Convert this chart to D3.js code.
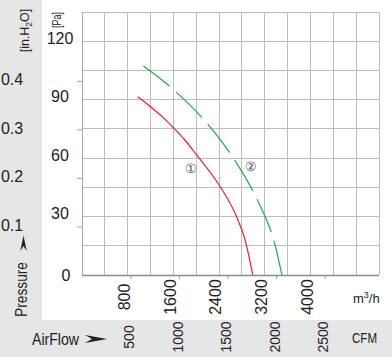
<!DOCTYPE html>
<html>
<head>
<meta charset="utf-8">
<script src="https://cdn.jsdelivr.net/npm/d3@7"></script>
<style>
  body { margin: 0; background: #fff; }
  svg { display: block; }
  text { font-family: "Liberation Sans", Arial, sans-serif; }
</style>
</head>
<body>
<div id="chart"></div>
<script>
// fan curve: static pressure vs air flow

// tick labels
const flowTicks = [800, 1600, 2400, 3200, 4000];     // m3/h
const cfmTicks = [500, 1000, 1500, 2000, 2500];      // CFM
const paTicks = [0, 30, 60, 90, 120];                // Pa
const inTicks = [0.1, 0.2, 0.3, 0.4];                // in.H2O

// curve 1 (red, solid)
const flow1 = [975, 1200, 1400, 1600, 1800, 2010, 2400, 2700, 2855, 2990];
const pa1 = [91.5, 86.4, 81.4, 75.6, 69.3, 61.5, 46.2, 30.3, 18, 0];

// curve 2 (green, dashed)
const flow2 = [1075, 1530, 1660, 2125, 2420, 2710, 3030, 3205, 3340, 3500];
const pa2 = [107.3, 97, 93.6, 80, 69.5, 57.3, 41, 30, 19.7, 0];

document.addEventListener('DOMContentLoaded', function(){

	const w = 392, h = 361;
	const left = 82, right = 379, top = 12, bottom = 275;
	const flowMax = 5200, paMax = 135;

	const svg = d3.select("#chart")
				  .append("svg")
				  .attr("width", w)
				  .attr("height", h);

	// grey bands
	svg.append("rect").attr("x", 0).attr("y", 0).attr("width", 42).attr("height", 320).attr("fill", "#e6e6e6");
	svg.append("rect").attr("x", 0).attr("y", 320).attr("width", w).attr("height", 37).attr("fill", "#e6e6e6");

	// scales
	const xScale = d3.scaleLinear().domain([0, flowMax]).range([left, right]);
	const xCfm = d3.scaleLinear().domain([0, flowMax / 1.699]).range([left, right]);
	const yScale = d3.scaleLinear().domain([0, paMax]).range([bottom, top]);
	const yIn = d3.scaleLinear().domain([0, paMax / 249.09]).range([bottom, top]);

	// grid
	const grid = svg.append("g").attr("stroke", "#bdbdbd").attr("stroke-width", 1).attr("shape-rendering", "crispEdges");
	grid.selectAll("line.v")
		.data(d3.range(400, flowMax + 1, 400))
		.enter().append("line")
		.attr("x1", d => xScale(d)).attr("x2", d => xScale(d))
		.attr("y1", top).attr("y2", bottom);
	grid.selectAll("line.h")
		.data(d3.range(15, paMax + 1, 15))
		.enter().append("line")
		.attr("x1", left).attr("x2", right)
		.attr("y1", d => yScale(d)).attr("y2", d => yScale(d));

	// axis lines
	svg.append("line").attr("x1", left).attr("x2", left).attr("y1", top).attr("y2", bottom)
	   .attr("stroke", "#a8a8a8").attr("shape-rendering", "crispEdges");
	svg.append("line").attr("x1", left).attr("x2", right).attr("y1", bottom + 0.5).attr("y2", bottom + 0.5)
	   .attr("stroke", "#8c8c8c").attr("stroke-width", 1.5);

	// CFM ticks under the flow axis
	const cfmTickAxis = svg.append("g")
		.attr("transform", "translate(0," + (bottom + 1) + ")")
		.call(d3.axisBottom(xCfm).tickValues(cfmTicks).tickSize(3).tickFormat(""));
	cfmTickAxis.select(".domain").remove();
	cfmTickAxis.selectAll("line").attr("stroke", "#a0a0a0");

	// in.H2O ticks + labels
	const inAxis = svg.append("g")
		.attr("transform", "translate(" + left + ",0)")
		.call(d3.axisLeft(yIn).tickValues(inTicks).tickSize(5).tickFormat(d3.format(".1f")));
	inAxis.select(".domain").remove();
	inAxis.selectAll("line").attr("stroke", "#a0a0a0");
	inAxis.selectAll("text")
		.attr("x", -70).attr("y", -1.5)
		.attr("text-anchor", "middle")
		.attr("font-family", "Liberation Sans, Arial, sans-serif")
		.attr("font-size", 16)
		.attr("fill", "#222");

	// Pa labels
	const paAxis = svg.append("g")
		.attr("transform", "translate(60,0)")
		.call(d3.axisLeft(yScale).tickValues(paTicks).tickSize(0));
	paAxis.select(".domain").remove();
	paAxis.selectAll("text")
		.attr("x", 0).attr("y", -3)
		.attr("text-anchor", "middle")
		.attr("font-family", "Liberation Sans, Arial, sans-serif")
		.attr("font-size", 16)
		.attr("fill", "#222");
	paAxis.selectAll(".tick").filter(d => d === 0).select("text").attr("x", 6).attr("y", 0);

	// m3/h labels (rotated)
	const flowAxis = svg.append("g")
		.attr("transform", "translate(0,297)")
		.call(d3.axisBottom(xScale).tickValues(flowTicks).tickSize(0).tickFormat(d3.format("d")));
	flowAxis.select(".domain").remove();
	flowAxis.selectAll("text")
		.attr("x", 0).attr("y", 0).attr("dy", "0.36em")
		.attr("transform", "translate(-4,0) rotate(-90)")
		.attr("text-anchor", "middle")
		.attr("font-family", "Liberation Sans, Arial, sans-serif")
		.attr("font-size", 16)
		.attr("fill", "#222");

	// CFM labels (rotated)
	const cfmAxis = svg.append("g")
		.attr("transform", "translate(0,337)")
		.call(d3.axisBottom(xCfm).tickValues(cfmTicks).tickSize(0).tickFormat(d3.format("d")));
	cfmAxis.select(".domain").remove();
	cfmAxis.selectAll("text")
		.attr("x", 0).attr("y", 0).attr("dy", "0.36em")
		.attr("transform", "translate(-2,0) rotate(-90)")
		.attr("text-anchor", "middle")
		.attr("font-family", "Liberation Sans, Arial, sans-serif")
		.attr("font-size", 14)
		.attr("fill", "#222");

	// unit labels
	svg.append("text")
	   .attr("x", 353).attr("y", 303).attr("font-size", 13).attr("fill", "#222")
	   .html('m<tspan dy="-5" font-size="9">3</tspan><tspan dy="5">/h</tspan>');
	svg.append("text")
	   .attr("x", 352).attr("y", 343).attr("font-size", 15).attr("fill", "#222")
	   .attr("textLength", 25).attr("lengthAdjust", "spacingAndGlyphs")
	   .text("CFM");
	svg.append("text")
	   .attr("transform", "translate(56,20) rotate(-90)")
	   .attr("dy", "0.36em").attr("text-anchor", "middle")
	   .attr("font-size", 12.5).attr("fill", "#222")
	   .attr("textLength", 16).attr("lengthAdjust", "spacingAndGlyphs")
	   .text("[Pa]");
	svg.append("text")
	   .attr("transform", "translate(24.5,30.5) rotate(-90)")
	   .attr("dy", "0.36em").attr("text-anchor", "middle")
	   .attr("font-size", 12.5).attr("fill", "#222")
	   .html('[in.H<tspan dy="3" font-size="8.5">2</tspan><tspan dy="-3">O]</tspan>');

	// axis titles
	svg.append("text")
	   .attr("transform", "translate(21,289.5) rotate(-90)")
	   .attr("dy", "0.36em").attr("text-anchor", "middle")
	   .attr("font-size", 16).attr("fill", "#222")
	   .attr("textLength", 55).attr("lengthAdjust", "spacingAndGlyphs")
	   .text("Pressure");
	svg.append("text")
	   .attr("x", 32).attr("y", 345)
	   .attr("font-size", 16).attr("fill", "#222")
	   .attr("textLength", 47).attr("lengthAdjust", "spacingAndGlyphs")
	   .text("AirFlow");

	// arrows
	const arrow = "M0,-4L22,0L0,4L7,0Z";
	svg.append("path").attr("d", arrow).attr("fill", "#222")
	   .attr("transform", "translate(85,339)");
	svg.append("path").attr("d", arrow).attr("fill", "#222")
	   .attr("transform", "translate(23.5,251) rotate(-90) scale(0.7,0.8)");

	// curves
	const line = d3.line()
				   .x(d => xScale(d[0]))
				   .y(d => yScale(d[1]))
				   .curve(d3.curveMonotoneX);

	svg.append("path")
	   .attr("d", line(d3.zip(flow1, pa1)))
	   .attr("fill", "none")
	   .attr("stroke", "#ee1c2e")
	   .attr("stroke-width", 1.2);

	svg.append("path")
	   .attr("d", line(d3.zip(flow2, pa2)))
	   .attr("fill", "none")
	   .attr("stroke", "#1fa84f")
	   .attr("stroke-width", 1.2)
	   .attr("stroke-dasharray", "36,9")
	   .attr("stroke-dashoffset", 3);

	// curve numbers
	svg.append("text")
	   .attr("x", xScale(1915)).attr("y", yScale(55))
	   .attr("text-anchor", "middle").attr("dy", "0.36em")
	   .attr("font-family", "'Noto Sans CJK SC', 'DejaVu Sans', sans-serif")
	   .attr("font-size", 13).attr("fill", "#555")
	   .text("\u2460");
	svg.append("text")
	   .attr("x", xScale(2960)).attr("y", yScale(56))
	   .attr("text-anchor", "middle").attr("dy", "0.36em")
	   .attr("font-family", "'Noto Sans CJK SC', 'DejaVu Sans', sans-serif")
	   .attr("font-size", 13).attr("fill", "#555")
	   .text("\u2461");
});
</script>
</body>
</html>
